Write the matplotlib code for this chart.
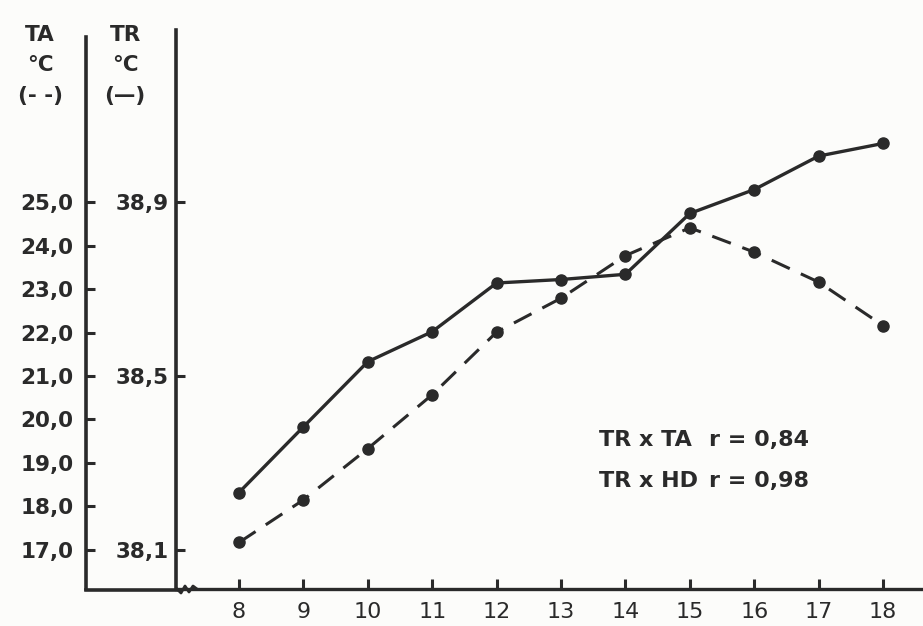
import matplotlib.pyplot as plt
from matplotlib.lines import Line2D

# dados
horas = [8, 9, 10, 11, 12, 13, 14, 15, 16, 17, 18]
tr = [38.232, 38.383, 38.533, 38.602, 38.714, 38.722, 38.734, 38.874, 38.929, 39.006, 39.035]
ta = [17.17, 18.15, 19.33, 20.57, 22.01, 22.79, 23.77, 24.41, 23.85, 23.16, 22.16]

ta_ticks = [17, 18, 19, 20, 21, 22, 23, 24, 25]
ta_labels = ['17,0', '18,0', '19,0', '20,0', '21,0', '22,0', '23,0', '24,0', '25,0']
tr_ticks = [38.1, 38.5, 38.9]
tr_labels = ['38,1', '38,5', '38,9']

W, H = 923, 626
ink = '#2a2a2a'
bg = '#fcfcfa'


def fx(px):
    # pixel x -> fracao da figura
    return px / W


def fy(py):
    # pixel y (a partir do topo) -> fracao da figura
    return 1 - py / H


fig = plt.figure(figsize=(W / 100, H / 100), dpi=100, facecolor=bg)
plt.rcParams['font.family'] = ['DejaVu Sans']

# eixo principal (TA) e eixo gemeo (TR)
ax = fig.add_axes([fx(176), fy(589), fx(923) - fx(176), fy(30) - fy(589)])
ax.set_facecolor('none')
ta_lim = (16.10, 28.96)
ax.set_ylim(ta_lim)
ax.set_xlim(7.022, 18.62)

ax2 = ax.twinx()
ax2.set_ylim(38.1 + (ta_lim[0] - 17) * 0.1, 38.1 + (ta_lim[1] - 17) * 0.1)

# curvas
ax.plot(horas, ta, color=ink, lw=2.2, linestyle=(0, (6.5, 4.0)),
        marker='o', ms=8, mfc=ink, mec=ink, zorder=3)
ax2.plot(horas, tr, color=ink, lw=2.4, marker='o', ms=8, mfc=ink, mec=ink, zorder=3)

# configurando os eixos
for s in ['top', 'right']:
    ax.spines[s].set_visible(False)
for s in ['top', 'right', 'bottom']:
    ax2.spines[s].set_visible(False)

ax.spines['left'].set_position(('outward', 64.8))
ax.spines['left'].set_bounds(ta_lim[0], 28.80)
ax.spines['left'].set_linewidth(2.6)
ax.spines['left'].set_color(ink)
ax.spines['bottom'].set_linewidth(2.4)
ax.spines['bottom'].set_color(ink)

ax2.spines['left'].set_visible(True)
ax2.spines['left'].set_linewidth(2.6)
ax2.spines['left'].set_color(ink)
ax2.yaxis.tick_left()

ax.set_yticks(ta_ticks)
ax.set_yticklabels(ta_labels)
ax2.set_yticks(tr_ticks)
ax2.set_yticklabels(tr_labels)
ax.set_xticks(horas)
ax.set_xticklabels([str(h) for h in horas])

ax.tick_params(axis='y', direction='in', length=6.5, width=2.2, color=ink,
               pad=9, labelsize=15.5, labelcolor=ink)
ax2.tick_params(axis='y', direction='in', length=6.5, width=2.2, color=ink,
                pad=5, labelsize=15.5, labelcolor=ink)
ax.tick_params(axis='x', direction='in', length=7, width=2.2, color=ink,
               pad=9, labelsize=16, labelcolor=ink)
for lab in ax.get_yticklabels() + ax2.get_yticklabels():
    lab.set_fontweight('bold')

# fechando a caixa entre os dois eixos e o pequeno corte
fig.add_artist(Line2D([fx(86), fx(177)], [fy(590), fy(590)], color=ink, lw=2.6))
fig.add_artist(Line2D([fx(177), fx(181), fx(185), fx(189), fx(193), fx(197)],
                      [fy(589), fy(593), fy(586), fy(592), fy(586), fy(589)],
                      color=ink, lw=2.0))

# titulos dos eixos
tkw = dict(fontsize=15.5, fontweight='bold', color=ink, ha='center', va='center')
for txt, y in [('TA', 35), ('°C', 65), ('(- -)', 96)]:
    fig.text(fx(40), fy(y), txt, **tkw)
for txt, y in [('TR', 35), ('°C', 65), ('(—)', 96)]:
    fig.text(fx(125), fy(y), txt, **tkw)

# correlacoes
akw = dict(fontsize=16, fontweight='bold', color=ink, ha='left', va='center')
ax.text(13.59, 19.53, 'TR x TA', **akw)
ax.text(15.30, 19.53, 'r = 0,84', **akw)
ax.text(13.59, 18.58, 'TR x HD', **akw)
ax.text(15.30, 18.58, 'r = 0,98', **akw)

fig.savefig('out.png', dpi=100, facecolor=bg)
